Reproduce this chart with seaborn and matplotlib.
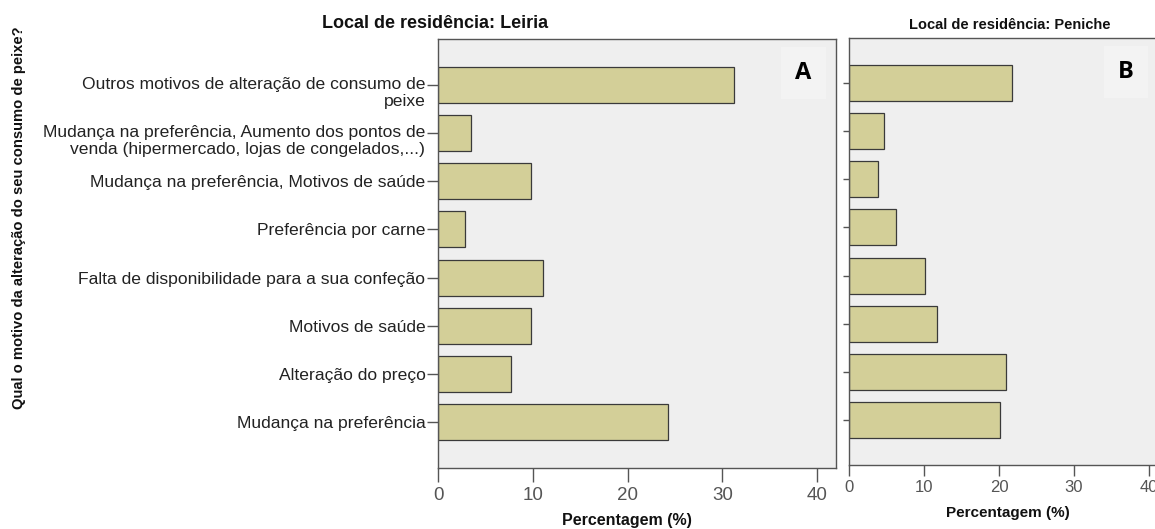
import matplotlib
matplotlib.use("Agg")
import matplotlib.pyplot as plt
import matplotlib.transforms as mtransforms
import pandas as pd
import seaborn as sns

# ─── Data ─────────────────────────────────────────────────────────────────────

CATEGORIES = [
    "Outros motivos de alteração de consumo de\npeixe",
    "Mudança na preferência, Aumento dos pontos de\nvenda (hipermercado, lojas de congelados,...)",
    "Mudança na preferência, Motivos de saúde",
    "Preferência por carne",
    "Falta de disponibilidade para a sua confeção",
    "Motivos de saúde",
    "Alteração do preço",
    "Mudança na preferência",
]
LEIRIA  = [31.2, 3.5, 9.8, 2.9, 11.1, 9.8, 7.7, 24.3]
PENICHE = [21.8, 4.7, 3.9, 6.3, 10.1, 11.7, 21.0, 20.2]
X_TICKS = [0, 10, 20, 30, 40]

TITLE_A = "Local de residência: Leiria"
TITLE_B = "Local de residência: Peniche"
X_LABEL = "Percentagem (%)"
Y_LABEL = "Qual o motivo da alteração do seu consumo de peixe?"

# ─── Style ────────────────────────────────────────────────────────────────────

BAR_COLOR = "#d3cf98"
BAR_EDGE  = "#3a3a3a"
PANEL_BG  = "#efefef"
BOX_BG    = "#f3f3f3"
SPINE     = "#555555"
NARROW    = ["Liberation Sans Narrow", "Liberation Sans", "DejaVu Sans"]

plt.rcParams.update({
    "font.family":      ["Liberation Sans", "DejaVu Sans"],
    "figure.facecolor": "white",
    "axes.facecolor":   PANEL_BG,
    "axes.edgecolor":   SPINE,
    "axes.linewidth":   1.0,
})

W, H, DPI = 1155, 529, 100
fig = plt.figure(figsize=(W / DPI, H / DPI), dpi=DPI)


def px_axes(left, top, right, bottom):
    return fig.add_axes([left / W, 1 - bottom / H, (right - left) / W, (bottom - top) / H])


ax_a = px_axes(438, 39, 836, 468)
ax_b = px_axes(849, 38, 1164, 465)

df = pd.DataFrame({"motivo": CATEGORIES, "Leiria": LEIRIA, "Peniche": PENICHE})

for ax, col in ((ax_a, "Leiria"), (ax_b, "Peniche")):
    sns.barplot(data=df, x=col, y="motivo", orient="h", color=BAR_COLOR,
                saturation=1, width=0.75, edgecolor=BAR_EDGE, linewidth=0.9, ax=ax)
    ax.set_xlim(0, 42)
    ax.set_xticks(X_TICKS)
    ax.set_xlabel(""); ax.set_ylabel("")
    for s in ax.spines.values():
        s.set_color(SPINE)

ax_a.set_ylim(7.95, -0.95)
ax_b.set_ylim(7.94, -0.94)

# panel A axes
ax_a.tick_params(axis="y", length=8, width=1, color=SPINE, pad=1,
                 labelsize=12.6, labelcolor="#222222")
ax_a.tick_params(axis="x", length=10, width=1, color=SPINE, pad=4,
                 labelsize=13.5, labelcolor="#555555")
for lbl in ax_a.get_xticklabels():
    lbl.set_family(NARROW)
# two-line labels sit with the tick at the foot of their first line
shift = mtransforms.ScaledTranslation(0, -6 / DPI, fig.dpi_scale_trans)
for lbl in ax_a.get_yticklabels():
    if "\n" in lbl.get_text():
        lbl.set_linespacing(1.12)
        lbl.set_transform(lbl.get_transform() + shift)

# panel B axes
ax_b.set_yticklabels([])
ax_b.tick_params(axis="y", length=4, width=1, color=SPINE)
ax_b.tick_params(axis="x", length=8, width=1, color=SPINE, pad=3,
                 labelsize=12, labelcolor="#555555")
for lbl in ax_b.get_xticklabels():
    lbl.set_family(NARROW)

# titles and axis labels
fig.text(435 / W, 1 - 24 / H, TITLE_A, ha="center", va="center",
         fontsize=13, fontweight="bold", color="#111111")
fig.text(1010 / W, 1 - 25 / H, TITLE_B, ha="center", va="center",
         fontsize=10.5, fontweight="bold", color="#111111", family=NARROW)
fig.text(627 / W, 1 - 520 / H, X_LABEL, ha="center", va="center",
         fontsize=11.5, fontweight="bold", color="#111111")
fig.text(1008 / W, 1 - 513 / H, X_LABEL, ha="center", va="center",
         fontsize=11, fontweight="bold", color="#111111", family=NARROW)
fig.text(19 / W, 1 - 218 / H, Y_LABEL, ha="center", va="center", rotation=90,
         fontsize=10.6, fontweight="bold", color="#111111")

# panel letters
for ax, letter, xpos in ((ax_a, "A", 0.918), (ax_b, "B", 0.88)):
    ax.text(xpos, 0.92, letter, transform=ax.transAxes, ha="center", va="center",
            fontsize=17, fontweight="bold", family=["Open Sans", "DejaVu Sans"],
            color="black",
            bbox=dict(boxstyle="square,pad=0.6", facecolor=BOX_BG, edgecolor="none"))

fig.savefig("out.png", dpi=DPI)
plt.close(fig)
